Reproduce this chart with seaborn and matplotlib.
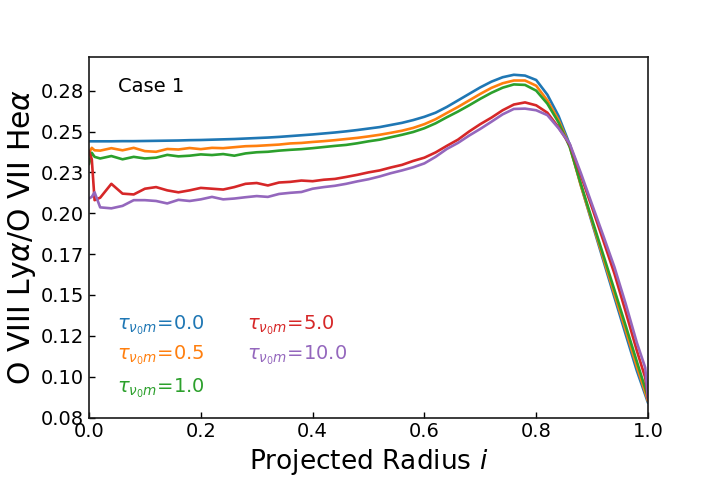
import numpy as np
import pandas as pd
import seaborn as sns
import matplotlib
matplotlib.use("Agg")
import matplotlib.pyplot as plt

# projected radius grid
radius = [0.0, 0.005, 0.01, 0.02, 0.04, 0.06, 0.08, 0.10, 0.12, 0.14, 0.16, 0.18,
          0.20, 0.22, 0.24, 0.26, 0.28, 0.30, 0.32, 0.34, 0.36, 0.38, 0.40, 0.42,
          0.44, 0.46, 0.48, 0.50, 0.52, 0.54, 0.56, 0.58, 0.60, 0.62, 0.64, 0.66,
          0.68, 0.70, 0.72, 0.74, 0.76, 0.78, 0.80, 0.82, 0.84, 0.86, 0.88, 0.90,
          0.92, 0.94, 0.96, 0.98, 0.995, 1.0]

ratio_tau_0_0 = [0.2440, 0.2440, 0.2440, 0.2440, 0.2440, 0.2441, 0.2441, 0.2442, 0.2443, 0.2444,
                 0.2445, 0.2447, 0.2448, 0.2450, 0.2452, 0.2454, 0.2457, 0.2460, 0.2463, 0.2467,
                 0.2472, 0.2477, 0.2482, 0.2488, 0.2494, 0.2501, 0.2509, 0.2518, 0.2527, 0.2540,
                 0.2553, 0.2570, 0.2590, 0.2615, 0.2650, 0.2690, 0.2730, 0.2770, 0.2805, 0.2832,
                 0.2847, 0.2842, 0.2815, 0.2725, 0.2595, 0.2420, 0.2170, 0.1940, 0.1712, 0.1485,
                 0.1260, 0.1037, 0.0890, 0.0840]

ratio_tau_0_5 = [0.2370, 0.2400, 0.2385, 0.2383, 0.2398, 0.2385, 0.2400, 0.2380, 0.2376, 0.2393,
                 0.2390, 0.2399, 0.2392, 0.2400, 0.2398, 0.2404, 0.2410, 0.2412, 0.2416, 0.2420,
                 0.2427, 0.2430, 0.2436, 0.2441, 0.2447, 0.2454, 0.2461, 0.2470, 0.2480, 0.2492,
                 0.2505, 0.2522, 0.2545, 0.2575, 0.2613, 0.2650, 0.2690, 0.2730, 0.2767, 0.2795,
                 0.2812, 0.2812, 0.2780, 0.2690, 0.2570, 0.2410, 0.2168, 0.1948, 0.1726, 0.1505,
                 0.1285, 0.1062, 0.0905, 0.0850]

ratio_tau_1_0 = [0.2300, 0.2370, 0.2345, 0.2335, 0.2350, 0.2330, 0.2345, 0.2335, 0.2340, 0.2357,
                 0.2348, 0.2352, 0.2360, 0.2356, 0.2362, 0.2352, 0.2366, 0.2373, 0.2376, 0.2383,
                 0.2388, 0.2392, 0.2398, 0.2405, 0.2412, 0.2418, 0.2428, 0.2440, 0.2450, 0.2465,
                 0.2480, 0.2497, 0.2520, 0.2550, 0.2587, 0.2622, 0.2660, 0.2700, 0.2737, 0.2768,
                 0.2788, 0.2785, 0.2750, 0.2670, 0.2555, 0.2405, 0.2178, 0.1960, 0.1745, 0.1530,
                 0.1313, 0.1093, 0.0930, 0.0872]

ratio_tau_5_0 = [0.2380, 0.2330, 0.2080, 0.2095, 0.2180, 0.2120, 0.2115, 0.2150, 0.2160, 0.2140,
                 0.2128, 0.2140, 0.2155, 0.2150, 0.2145, 0.2160, 0.2180, 0.2185, 0.2170, 0.2188,
                 0.2192, 0.2200, 0.2196, 0.2205, 0.2210, 0.2222, 0.2235, 0.2250, 0.2262, 0.2280,
                 0.2296, 0.2320, 0.2340, 0.2372, 0.2412, 0.2450, 0.2500, 0.2545, 0.2585, 0.2630,
                 0.2665, 0.2678, 0.2660, 0.2615, 0.2525, 0.2420, 0.2230, 0.2034, 0.1833, 0.1630,
                 0.1398, 0.1160, 0.0995, 0.0866]

ratio_tau_10_0 = [0.2090, 0.2100, 0.2128, 0.2036, 0.2030, 0.2045, 0.2080, 0.2080, 0.2075, 0.2060,
                  0.2082, 0.2075, 0.2085, 0.2100, 0.2085, 0.2090, 0.2098, 0.2105, 0.2100, 0.2118,
                  0.2125, 0.2130, 0.2150, 0.2160, 0.2168, 0.2180, 0.2195, 0.2208, 0.2225, 0.2245,
                  0.2262, 0.2281, 0.2305, 0.2345, 0.2393, 0.2430, 0.2475, 0.2516, 0.2560, 0.2605,
                  0.2638, 0.2640, 0.2630, 0.2600, 0.2520, 0.2425, 0.2245, 0.2053, 0.1863, 0.1670,
                  0.1447, 0.1209, 0.1056, 0.0866]

tau_labels = ["0.0", "0.5", "1.0", "5.0", "10.0"]
series = [ratio_tau_0_0, ratio_tau_0_5, ratio_tau_1_0, ratio_tau_5_0, ratio_tau_10_0]
colors = ["#1f77b4", "#ff7f0e", "#2ca02c", "#d62728", "#9467bd"]

ytick_vals = [0.075, 0.100, 0.125, 0.150, 0.175, 0.200, 0.225, 0.250, 0.275]
ytick_labels = ["0.08", "0.10", "0.12", "0.15", "0.17", "0.20", "0.23", "0.25", "0.28"]

frames = []
for lab, vals in zip(tau_labels, series):
    frames.append(pd.DataFrame({"radius": radius, "ratio": vals, "tau": lab}))
df = pd.concat(frames, ignore_index=True)

sns.set_style("ticks")
plt.rcParams.update({"text.color": "black", "axes.labelcolor": "black",
                     "xtick.color": "black", "ytick.color": "black"})

fig = plt.figure(figsize=(7.2, 4.8), dpi=100)
ax = fig.add_axes([0.1236, 0.130, 0.7764, 0.751])

sns.lineplot(data=df, x="radius", y="ratio", hue="tau", palette=colors,
             linewidth=1.9, legend=False, ax=ax, estimator=None, sort=False)

ax.set_xlim(0, 1)
ax.set_ylim(0.075, 0.2955)
ax.set_xticks([0.0, 0.2, 0.4, 0.6, 0.8, 1.0])
ax.set_xticklabels(["0.0", "0.2", "0.4", "0.6", "0.8", "1.0"])
ax.set_yticks(ytick_vals)
ax.set_yticklabels(ytick_labels)
ax.tick_params(direction="in", length=4, width=1, labelsize=14, colors="black")

for sp in ax.spines.values():
    sp.set_visible(True)
    sp.set_color("#1a1a1a")
    sp.set_linewidth(1.2)

ax.set_xlabel("Projected Radius $i$", fontsize=19)
ax.set_ylabel(r"O VIII Ly$\alpha$/O VII He$\alpha$", fontsize=21.5, labelpad=2)

ax.text(0.052, 0.918, "Case 1", transform=ax.transAxes, fontsize=14,
        ha="left", va="center")

# annotation "legend"
text_pos = [(0.05, 0.257), (0.05, 0.173), (0.05, 0.082), (0.282, 0.257), (0.282, 0.173)]
for (tx, ty), lab, c in zip(text_pos, tau_labels, colors):
    ax.text(tx, ty, r"$\tau_{\nu_0 m}$=" + lab, transform=ax.transAxes,
            fontsize=14, color=c, ha="left", va="center")

fig.savefig("out.png", dpi=100)
